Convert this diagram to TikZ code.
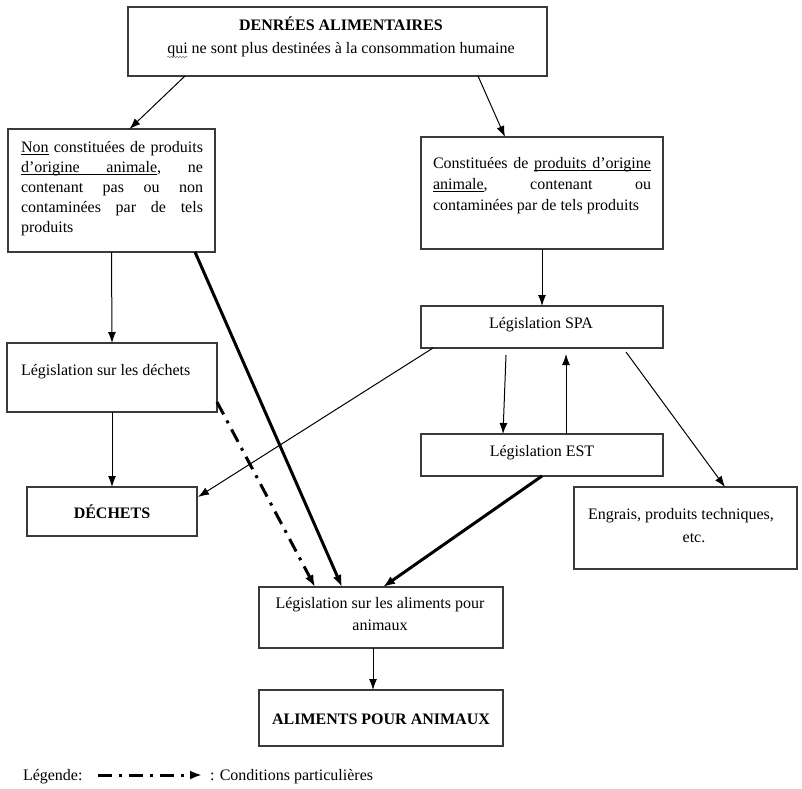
\documentclass[tikz,border=0pt]{standalone}
\usepackage{fontspec}
\setmainfont{Liberation Serif}
\usetikzlibrary{arrows.meta,calc,decorations.pathmorphing}
\definecolor{boxc}{HTML}{3A3A3A}
\newcommand\myul[1]{\setbox0=\hbox{#1}\rlap{\vrule height -2.4pt depth 3.2pt width \wd0}\box0}
\newcommand\jsp{\hskip 3pt plus 1fill\relax}
\newcommand\ujsp{\leaders\hrule height -2.4pt depth 3.2pt\hskip 3pt plus 1fill\relax}
\newcommand\jl[1]{\hbox to\hsize{#1}}
\begin{document}
\begin{tikzpicture}[x=1pt,y=-1pt,
  box/.style={draw=boxc, line width=1.2pt, inner sep=0pt, outer sep=0pt},
  txt/.style={inner sep=0pt, outer sep=0pt, font=\fontsize{16}{20}\selectfont},
  arr/.style={-{Latex[length=11pt,width=8pt]}, line width=1pt},
  thk/.style={-{Latex[length=12pt,width=9pt]}, line width=3pt},
  dd/.style={thk, dash pattern=on 14pt off 7pt on 3pt off 7pt}]
\useasboundingbox (0,0) rectangle (802,788);

% boxes
\node[box, minimum width=419pt, minimum height=69pt] (top) at (337.5,41.5) {};
\node[box, minimum width=207pt, minimum height=123pt] (non) at (111.5,190.5) {};
\node[box, minimum width=242pt, minimum height=112pt] (con) at (542,193) {};
\node[box, minimum width=242pt, minimum height=42pt] (spa) at (542,327) {};
\node[box, minimum width=242pt, minimum height=42pt] (est) at (542,455) {};
\node[box, minimum width=223pt, minimum height=82pt] (eng) at (685.5,528) {};
\node[box, minimum width=210pt, minimum height=69pt] (dle) at (112,377.5) {};
\node[box, minimum width=170pt, minimum height=49pt] (dec) at (112,511.5) {};
\node[box, minimum width=244pt, minimum height=61pt] (ali) at (381,617.5) {};
\node[box, minimum width=244pt, minimum height=56pt] (ALI) at (381,718) {};

% texts
\node[txt, anchor=base] (t1) at (341,30) {\textbf{DENRÉES ALIMENTAIRES}};
\node[txt, anchor=base] (t2) at (341,53) {qui ne sont plus destinées à la consommation humaine};
\draw[gray, line width=0.6pt, decorate, decoration={snake, amplitude=0.8pt, segment length=3pt}]
  ($(t2.base west)+(0,4)$) -- ($(t2.base west)+(20,4)$);
\node[txt, anchor=base west] (tnon) at (21,152) {\parbox[t]{182pt}{\fontsize{16}{20}\selectfont
  \jl{\myul{Non}\jsp constituées\jsp de\jsp produits}
  \jl{\myul{d'origine}\ujsp\myul{animale},\jsp ne}
  \jl{contenant\jsp pas\jsp ou\jsp non}
  \jl{contaminées\jsp par\jsp de\jsp tels}
  \hbox{produits}}};
\node[txt, anchor=base west] (tcon) at (433,168) {\parbox[t]{218pt}{\fontsize{16}{21}\selectfont
  \jl{Constituées\jsp de\jsp\myul{produits}\ujsp\myul{d'origine}}
  \jl{\myul{animale},\jsp contenant\jsp ou}
  \hbox{contaminées par de tels produits}}};
\node[txt, anchor=base west] (tdle) at (21,375) {Législation sur les déchets};
\node[txt, anchor=base] (tdec) at (112,518) {\textbf{DÉCHETS}};
\node[txt, anchor=base] (tspa) at (541,328) {Législation SPA};
\node[txt, anchor=base] (test) at (542,456) {Législation EST};
\node[txt, anchor=base] (teng1) at (681,519) {Engrais, produits techniques,};
\node[txt, anchor=base] (teng2) at (694,542) {etc.};
\node[txt, anchor=base] (tali1) at (380,608) {Législation sur les aliments pour};
\node[txt, anchor=base] (tali2) at (380,630) {animaux};
\node[txt, anchor=base] (tALI) at (381,724) {\textbf{ALIMENTS POUR ANIMAUX}};

% connectors
\draw[arr] ($(top.south west)+(57,0)$) -- ($(non.north)+(18,0)$);
\draw[arr] ($(top.south west)+(350,0)$) -- ($(con.north west)+(84,0)$);
\draw[arr] (non.south) -- (dle.north);
\draw[thk] ($(non.south east)+(-20,0)$) -- ($(ali.north west)+(83,0)$);
\draw[arr] (dle.south) -- (dec.north);
\draw[dd] ($(dle.south east)+(0,-10)$) -- ($(ali.north west)+(56,0)$);
\draw[arr] ($(spa.south west)+(12,0)$) -- ($(dec.north east)+(1,10)$);
\draw[arr] (con.south) -- (spa.north);
\draw[arr] ($(spa.south west)+(85,7)$) -- ($(est.north west)+(82,0)$);
\draw[arr] ($(est.north west)+(145,0)$) -- ($(spa.south west)+(145,6)$);
\draw[arr] ($(spa.south west)+(205,4)$) -- ($(eng.north west)+(151,0)$);
\draw[thk] (est.south) -- ($(ali.north west)+(124,0)$);
\draw[arr] ($(ali.south west)+(114,0)$) -- ($(ALI.north west)+(114,0)$);

% legend
\node[txt, anchor=base west] (leg) at (23,780) {Légende:};
\coordinate (l1) at (98,775);
\coordinate (l2) at (202,775);
\draw[dd] (l1) -- (l2);
\node[txt, anchor=base west] (legt) at (210,780) {: Conditions particulières};
\end{tikzpicture}
\end{document}
